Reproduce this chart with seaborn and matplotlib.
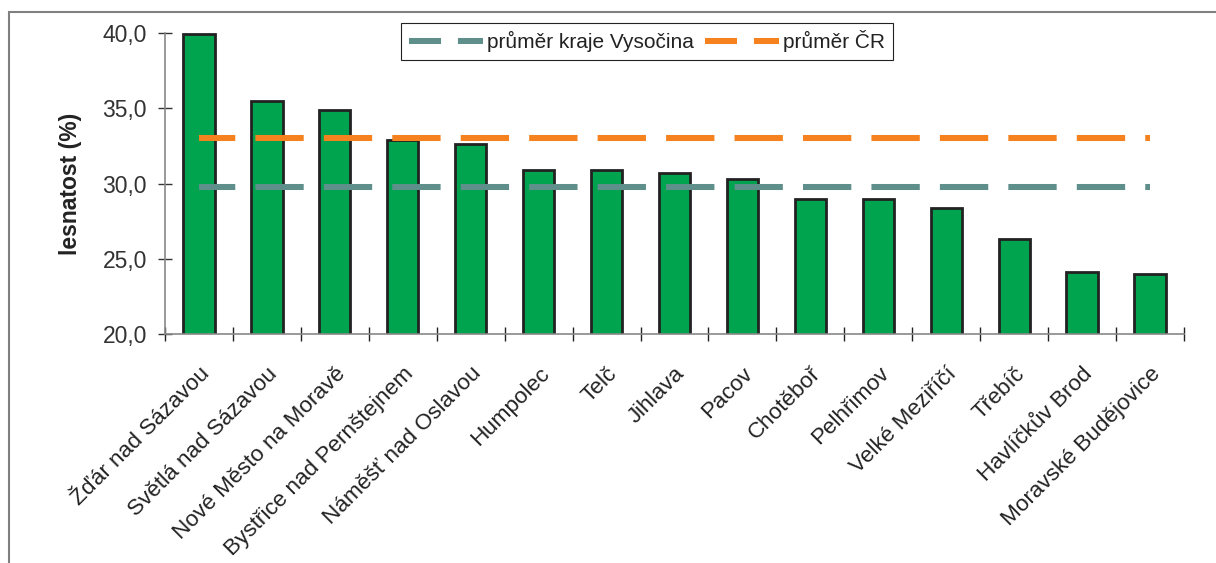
import numpy as np
import seaborn as sns
import matplotlib.pyplot as plt
from matplotlib.lines import Line2D
from matplotlib.patches import Rectangle
from matplotlib.ticker import FuncFormatter

# data - lesnatost podle ORP
mesta = ["Žďár nad Sázavou", "Světlá nad Sázavou", "Nové Město na Moravě",
         "Bystřice nad Pernštejnem", "Náměšť nad Oslavou", "Humpolec", "Telč",
         "Jihlava", "Pacov", "Chotěboř", "Pelhřimov", "Velké Meziříčí",
         "Třebíč", "Havlíčkův Brod", "Moravské Budějovice"]
lesnatost = [39.9, 35.5, 34.9, 32.9, 32.6, 30.9, 30.9, 30.7, 30.3,
             29.0, 29.0, 28.4, 26.3, 24.1, 24.0]
prumer_kraj = 29.8
prumer_cr = 33.0
popisky = ["průměr kraje Vysočina", "průměr ČR"]

ZELENA = "#00A34E"
TYRKYS = "#5F8F8A"
ORANZ = "#F5821F"


def set_config():
    sns.set_style("ticks")
    plt.rcParams["font.family"] = ["Liberation Sans", "DejaVu Sans"]
    plt.rcParams["text.color"] = "#222222"
    plt.rcParams["axes.labelcolor"] = "#222222"
    plt.rcParams["xtick.color"] = "#222222"
    plt.rcParams["ytick.color"] = "#333333"


def draw():
    fig = plt.figure(figsize=(12.16, 5.63), dpi=100)
    ax = fig.add_axes([0.1357, 0.4067, 0.8380, 0.5347])

    sns.barplot(x=mesta, y=lesnatost, color=ZELENA, saturation=1, width=0.46,
                edgecolor="#222222", linewidth=2, ax=ax, zorder=2)

    # prumery jako prerusovane cary pres vsechny kategorie
    pozice = np.arange(len(mesta))
    lw = 4.35
    for hodnota, barva in [(prumer_kraj, TYRKYS), (prumer_cr, ORANZ)]:
        sns.lineplot(x=pozice, y=[hodnota] * len(mesta), sort=False, color=barva,
                     linewidth=lw, linestyle=(2, (8, 3.33)), ax=ax, zorder=3)

    ax.set_xlim(-0.5, len(mesta) - 0.5)
    ax.set_ylim(20, 40)
    ax.set_yticks([20, 25, 30, 35, 40])
    ax.yaxis.set_major_formatter(FuncFormatter(lambda v, p: f"{v:.1f}".replace(".", ",")))

    ax.set_xticks(pozice)
    ax.set_xticklabels(mesta)
    ax.set_xticks(np.arange(-0.5, len(mesta), 1), minor=True)
    for lab in ax.get_xticklabels():
        lab.set_rotation(45)
        lab.set_ha("right")
        lab.set_va("top")
        lab.set_rotation_mode("anchor")

    ax.tick_params(axis="y", direction="inout", length=10, width=1, pad=8, labelsize=16.5)
    ax.tick_params(axis="x", which="major", length=0, pad=21, labelsize=16.2)
    ax.tick_params(axis="x", which="minor", direction="inout", length=10, width=1)

    ax.set_xlabel("")
    ax.set_ylabel("lesnatost (%)", fontsize=16.5, fontweight="bold", labelpad=15)

    sns.despine(ax=ax)
    for s in ["left", "bottom"]:
        ax.spines[s].set_color("#888888")
        ax.spines[s].set_linewidth(1.2)

    handles = [Line2D([], [], color=TYRKYS, lw=lw, dashes=(5.3, 2.8)),
               Line2D([], [], color=ORANZ, lw=lw, dashes=(5.3, 2.8))]
    leg = ax.legend(handles, popisky, ncol=2, loc="upper center",
                    bbox_to_anchor=(0.473, 1.033), borderaxespad=0,
                    frameon=True, fancybox=False, framealpha=1, edgecolor="#222222",
                    handlelength=3.55, handletextpad=0.2, columnspacing=0.55,
                    borderpad=0.35, fontsize=15)
    leg.get_frame().set_linewidth(0.8)

    # ramecek kolem grafu (vpravo a dole oriznuty)
    fig.add_artist(Rectangle((9 / 1216, -0.1), 1.2, 1.1 - 12 / 563, fill=False,
                             edgecolor="#808080", linewidth=1.5,
                             transform=fig.transFigure))

    fig.savefig("out.png", dpi=100)


def main():
    set_config()
    draw()


if __name__ == "__main__":
    main()
